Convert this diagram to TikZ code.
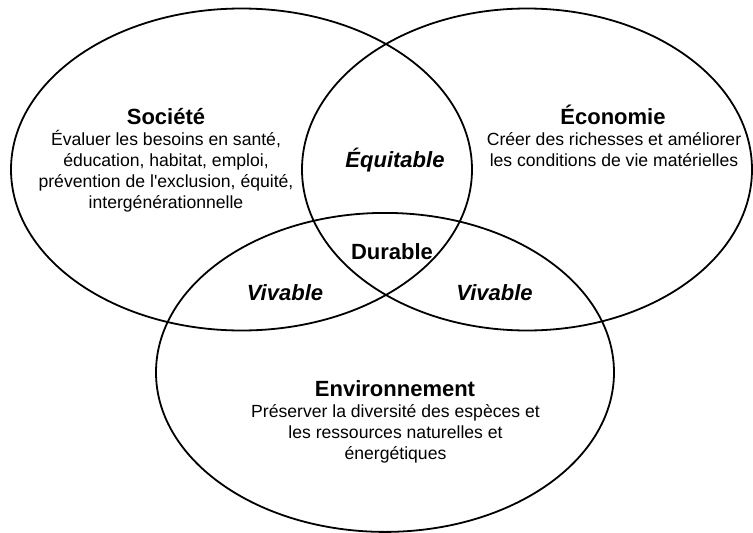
\documentclass[tikz,border=0pt]{standalone}
\usepackage{fontspec}
\setmainfont{Liberation Sans}[Ligatures=TeXOff]
\usetikzlibrary{shapes.geometric}
\begin{document}
\begin{tikzpicture}[x=1pt,y=-1pt,
  ring/.style={draw=black, line width=1.8pt, ellipse, inner sep=0pt, outer sep=0pt},
  body/.style={font=\fontsize{17.6}{21.2}\selectfont, inner sep=0pt, anchor=base},
  title/.style={font=\bfseries\fontsize{22}{26}\selectfont, inner sep=0pt, anchor=base},
  zone/.style={font=\bfseries\itshape\fontsize{22}{26}\selectfont, inner sep=0pt, anchor=base},
  core/.style={font=\bfseries\fontsize{22}{26}\selectfont, inner sep=0pt, anchor=base}]
\useasboundingbox (0,0) rectangle (753,533);
\fill[white] (0,0) rectangle (753,533);
% circles
\node[ring, minimum width=461pt, minimum height=322pt] (soc) at (241.5,169.5) {};
\node[ring, minimum width=450pt, minimum height=322pt] (eco) at (527,169.5) {};
\node[ring, minimum width=458pt, minimum height=319pt] (env) at (385,372.4) {};
% Société
\node[title] (socT) at (166,124) {Société};
\node[body] (socB) at (166,145) {\begin{tabular}[t]{@{}c@{}}Évaluer les besoins en santé,\\ éducation, habitat, emploi,\\ prévention de l'exclusion, équité,\\ intergénérationnelle\end{tabular}};
% Économie
\node[title] (ecoT) at (613,124) {Économie};
\node[body] (ecoB) at (614,145) {\begin{tabular}[t]{@{}c@{}}Créer des richesses et améliorer\\ les conditions de vie matérielles\end{tabular}};
% Environnement
\node[title] (envT) at (395,396.5) {Environnement};
\node[body] (envB) at (395.5,417) {\begin{tabular}[t]{@{}c@{}}Préserver la diversité des espèces et\\ les ressources naturelles et\\ énergétiques\end{tabular}};
% intersections
\node[zone] (equi) at (395,167) {Équitable};
\node[core] (dura) at (392,259) {Durable};
\node[zone] (viv1) at (285,300.5) {Vivable};
\node[zone] (viv2) at (494.5,300.5) {Vivable};
\end{tikzpicture}
\end{document}
